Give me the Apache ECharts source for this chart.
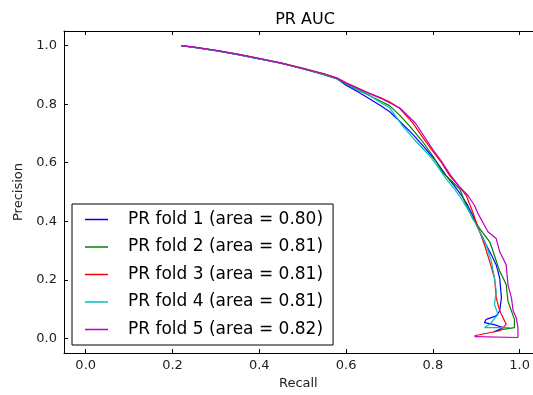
<!DOCTYPE html>
<html>
<head>
<meta charset="utf-8">
<script src="https://cdn.jsdelivr.net/npm/echarts@6/dist/echarts.min.js"></script>
<style>
html,body{margin:0;padding:0;background:#fff;}
#chart{width:533px;height:395px;}
</style>
</head>
<body>
<div id="chart"></div>
<script>
const titleText = "PR AUC";
const xName = "Recall";
const yName = "Precision";
const tickValues = [0.0, 0.2, 0.4, 0.6, 0.8, 1.0];
const seriesNames = [
  "PR fold 1 (area = 0.80)",
  "PR fold 2 (area = 0.81)",
  "PR fold 3 (area = 0.81)",
  "PR fold 4 (area = 0.81)",
  "PR fold 5 (area = 0.82)"
];
const seriesColors = ["#0000ff", "#008000", "#ff0000", "#00bfbf", "#bf00bf"];

const fold1 = [[0.22,1.0],[0.25,0.994],[0.3,0.983],[0.35,0.969],[0.4,0.955],[0.45,0.94],[0.5,0.921],[0.55,0.902],[0.58,0.886],[0.6,0.865],[0.63,0.84],[0.65,0.822],[0.68,0.795],[0.7,0.775],[0.724,0.741],[0.755,0.695],[0.785,0.645],[0.81,0.6],[0.831,0.555],[0.85,0.52],[0.866,0.488],[0.88,0.455],[0.892,0.42],[0.908,0.364],[0.923,0.319],[0.935,0.285],[0.946,0.251],[0.954,0.206],[0.958,0.139],[0.954,0.094],[0.946,0.077],[0.923,0.065],[0.919,0.054],[0.939,0.048],[0.962,0.037],[0.94,0.022]];
const fold2 = [[0.22,1.0],[0.25,0.994],[0.3,0.983],[0.35,0.97],[0.4,0.955],[0.45,0.94],[0.5,0.921],[0.55,0.9],[0.58,0.886],[0.6,0.868],[0.63,0.846],[0.65,0.832],[0.68,0.81],[0.7,0.795],[0.725,0.76],[0.747,0.724],[0.775,0.675],[0.8,0.623],[0.823,0.566],[0.845,0.535],[0.862,0.51],[0.877,0.454],[0.892,0.409],[0.908,0.375],[0.931,0.33],[0.939,0.296],[0.954,0.229],[0.962,0.206],[0.969,0.183],[0.973,0.127],[0.981,0.094],[0.988,0.065],[0.988,0.037],[0.962,0.031],[0.95,0.026]];
const fold3 = [[0.22,1.0],[0.25,0.995],[0.3,0.984],[0.35,0.971],[0.4,0.957],[0.45,0.941],[0.5,0.923],[0.55,0.904],[0.58,0.889],[0.6,0.873],[0.63,0.853],[0.65,0.84],[0.68,0.822],[0.7,0.808],[0.724,0.785],[0.754,0.735],[0.775,0.69],[0.797,0.645],[0.82,0.6],[0.839,0.555],[0.86,0.52],[0.877,0.488],[0.889,0.443],[0.908,0.364],[0.919,0.319],[0.931,0.262],[0.942,0.206],[0.946,0.139],[0.954,0.094],[0.969,0.048],[0.954,0.026],[0.896,0.009]];
const fold4 = [[0.22,1.0],[0.25,0.994],[0.3,0.983],[0.35,0.97],[0.4,0.955],[0.45,0.94],[0.5,0.921],[0.55,0.902],[0.58,0.887],[0.6,0.87],[0.63,0.848],[0.65,0.834],[0.68,0.805],[0.7,0.788],[0.731,0.724],[0.76,0.675],[0.793,0.623],[0.812,0.585],[0.831,0.544],[0.85,0.51],[0.866,0.476],[0.889,0.42],[0.904,0.375],[0.923,0.319],[0.935,0.262],[0.942,0.206],[0.946,0.161],[0.942,0.116],[0.95,0.082],[0.931,0.048],[0.919,0.037],[0.977,0.037]];
const fold5 = [[0.22,1.0],[0.25,0.995],[0.3,0.984],[0.35,0.971],[0.4,0.956],[0.45,0.94],[0.5,0.922],[0.55,0.903],[0.58,0.888],[0.6,0.872],[0.63,0.852],[0.65,0.838],[0.68,0.82],[0.7,0.805],[0.724,0.787],[0.76,0.735],[0.8,0.645],[0.82,0.605],[0.839,0.561],[0.86,0.52],[0.881,0.488],[0.896,0.454],[0.904,0.426],[0.927,0.364],[0.946,0.341],[0.954,0.296],[0.969,0.251],[0.973,0.183],[0.981,0.139],[0.985,0.094],[0.992,0.071],[0.996,0.037],[0.996,0.003],[0.896,0.006]];
const foldData = [fold1, fold2, fold3, fold4, fold5];

const chart = echarts.init(document.getElementById('chart'), null, {renderer: 'canvas'});
const font = 'DejaVu Sans';
const axisCommon = {
  type: 'value', min: -0.05, max: 1.03,
  splitLine: {show: false},
  axisLine: {show: true, onZero: false, lineStyle: {color: '#000', width: 1}},
  axisTick: {show: true, inside: true, length: 4, customValues: tickValues, lineStyle: {color: '#000'}}
};
const option = {
  animation: false,
  backgroundColor: '#fff',
  title: {text: titleText, left: 300, top: 7, textAlign: 'center',
    textStyle: {fontFamily: font, fontSize: 16, fontWeight: 'normal', color: '#000'}},
  grid: {left: 64, top: 31, right: 0, bottom: 39, containLabel: false},
  legend: {
    orient: 'vertical', left: 72, top: 204,
    backgroundColor: '#fff', borderColor: '#000', borderWidth: 1, borderRadius: 0,
    padding: [7, 10, 7, 13], itemGap: 10.5, itemWidth: 23, itemHeight: 1.5,
    icon: 'rect',
    data: seriesNames,
    textStyle: {fontFamily: font, fontSize: 17, color: '#000', lineHeight: 17, padding: [0, 0, 0, 15]}
  },
  xAxis: [
    Object.assign({}, axisCommon, {position: 'bottom', name: xName, nameLocation: 'middle', nameGap: 24,
      nameTextStyle: {fontFamily: font, fontSize: 13, color: '#222'},
      axisLabel: {show: true, customValues: tickValues, margin: 6, fontFamily: font, fontSize: 13, color: '#222',
        formatter: v => v.toFixed(1)}}),
    Object.assign({}, axisCommon, {position: 'top', axisLabel: {show: false}})
  ],
  yAxis: [
    Object.assign({}, axisCommon, {min: -0.05, max: 1.05, position: 'left', name: yName, nameLocation: 'middle', nameGap: 38,
      nameTextStyle: {fontFamily: font, fontSize: 13, color: '#222'},
      axisLabel: {show: true, customValues: tickValues, margin: 7, fontFamily: font, fontSize: 13, color: '#222',
        formatter: v => v.toFixed(1)}})
  ],
  series: foldData.map((d, i) => ({
    name: seriesNames[i], type: 'line', data: d,
    xAxisIndex: 0, yAxisIndex: 0,
    symbol: 'none', showSymbol: false, smooth: false,
    color: seriesColors[i],
    lineStyle: {color: seriesColors[i], width: 1.2},
    z: 2 + i
  }))
};
chart.setOption(option);
</script>
</body>
</html>
